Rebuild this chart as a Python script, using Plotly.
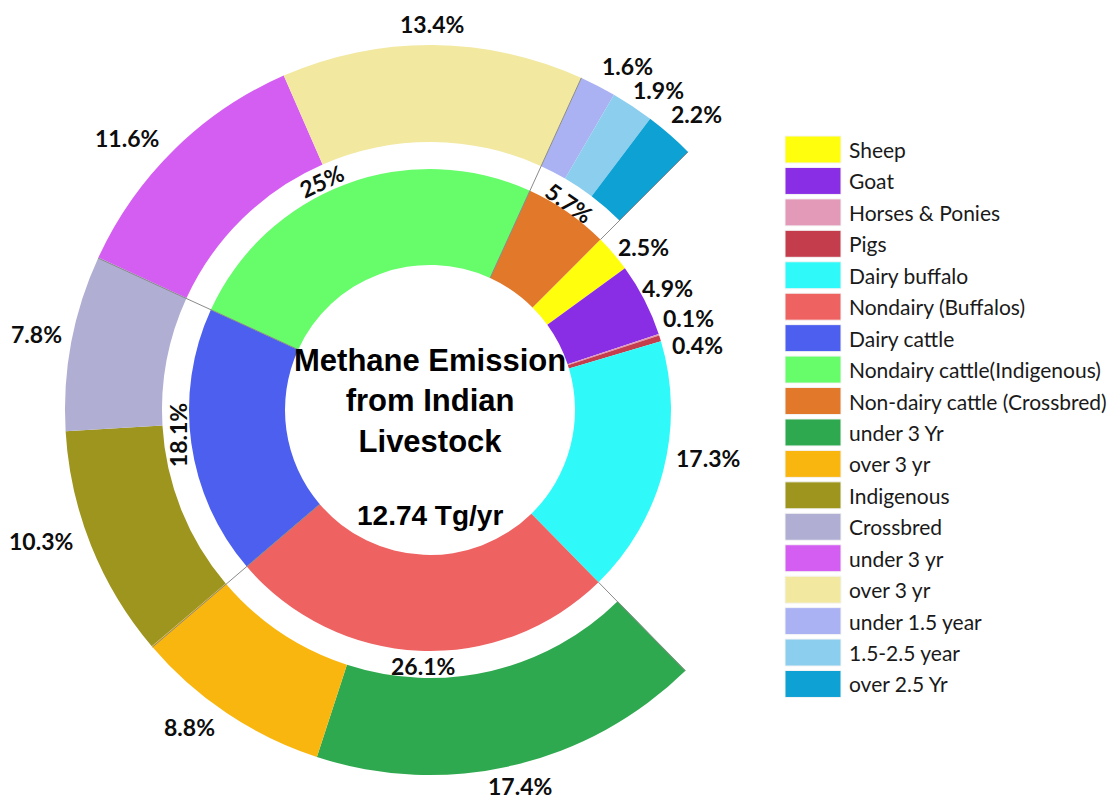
import math
import plotly.graph_objects as go

# ---- data -------------------------------------------------------------
# inner ring: share of total methane emission by livestock category (%)
inner_labels = ["Sheep", "Goat", "Horses & Ponies", "Pigs", "Dairy buffalo",
                "Nondairy (Buffalos)", "Dairy cattle",
                "Nondairy cattle(Indigenous)", "Non-dairy cattle (Crossbred)"]
inner_values = [2.5, 4.9, 0.1, 0.4, 17.3, 26.1, 18.1, 25.0, 5.7]

# outer ring: age / breed split of the cattle and buffalo groups (%)
outer_labels = ["under 3 Yr", "over 3 yr", "Indigenous", "Crossbred",
                "under 3 yr", "over 3 yr", "under 1.5 year", "1.5-2.5 year",
                "over 2.5 Yr"]
outer_values = [17.4, 8.8, 10.3, 7.8, 11.6, 13.4, 1.6, 1.9, 2.2]
outer_parent = [5, 5, 6, 6, 7, 7, 8, 8, 8]   # index of the inner category

total_emission = "12.74 Tg/yr"

# ---- style ------------------------------------------------------------
inner_colors = ["#FFFF0D", "#8A2EE6", "#E29AB8", "#C43D4D", "#30FAF9",
                "#EF6262", "#4C5FEF", "#66FC6A", "#E2782A"]
outer_colors = ["#2FA94F", "#F9B60F", "#9D951D", "#B0AFD3", "#D45EF2",
                "#F2E8A0", "#AAB2F3", "#8CCEEE", "#0EA1D3"]

W, H = 1120, 800
CX, CY = 430, 410                    # ring centre (px)
R_OUT, R_GAP, R_IN, R_HOLE = 365, 268, 241, 145
START = 45                           # first slice starts here (deg, clockwise from top)

# label placement: radius (px), angular nudge (deg), rotation (deg)
inner_lab_r = [269, 267, 274, 275, 282, 256, 253, 253, 250]
inner_lab_da = [3.2, 0.1, -1.4, 3.6, -4.8, -0.9, 2.3, -4.9, -0.8]
inner_lab_rot = [0, 0, 0, 0, 0, 0, -90, -25, 35]
outer_lab_r = [387, 398, 410, 401, 407, 386, 397, 393, 398]
outer_lab_da = [-0.3, 3.4, 3.2, 0.3, -3.6, -0.2, 2.5, 1.9, 0.9]

LABEL_FONT = dict(family="Lato, Open Sans, sans-serif", size=23, color="#0d0d0d")
LEGEND_FONT = dict(family="Lato, Open Sans, sans-serif", size=21, color="#1a1a1a")
TITLE_FONT = dict(family="Arial, Liberation Sans, sans-serif", size=31, color="#000000")
VALUE_FONT = dict(family="Arial, Liberation Sans, sans-serif", size=28, color="#000000")


def to_paper(angle_deg, r_px):
    a = math.radians(angle_deg)
    x = CX + r_px * math.sin(a)
    y = CY - r_px * math.cos(a)
    return x / W, 1 - y / H


def domain(r_px):
    return dict(x=[(CX - r_px) / W, (CX + r_px) / W],
                y=[1 - (CY + r_px) / H, 1 - (CY - r_px) / H])


# outer ring is empty over the categories without a breakdown
split = sorted(set(outer_parent))
blank = sum(v for i, v in enumerate(inner_values) if i not in split)
outer_ring_values = [blank] + outer_values
outer_ring_colors = ["rgba(0,0,0,0)"] + outer_colors
outer_ring_labels = ["Other livestock"] + [
    f"{inner_labels[p]}: {lab}" for p, lab in zip(outer_parent, outer_labels)]

fig = go.Figure()

fig.add_trace(go.Pie(
    labels=inner_labels, values=inner_values, sort=False,
    direction="clockwise", rotation=START, hole=R_HOLE / R_IN,
    domain=domain(R_IN), textinfo="none",
    marker=dict(colors=inner_colors, line=dict(width=0)),
    showlegend=False))

fig.add_trace(go.Pie(
    labels=outer_ring_labels, values=outer_ring_values, sort=False,
    direction="clockwise", rotation=START, hole=R_GAP / R_OUT,
    domain=domain(R_OUT), textinfo="none",
    marker=dict(colors=outer_ring_colors, line=dict(width=0)),
    showlegend=False))

# slice angles from the data
inner_step = 360 / sum(inner_values)
inner_edges = [START]
for v in inner_values:
    inner_edges.append(inner_edges[-1] + v * inner_step)
outer_step = 360 / sum(outer_ring_values)
outer_edges = [START]
for v in outer_ring_values:
    outer_edges.append(outer_edges[-1] + v * outer_step)
outer_edges = outer_edges[1:]        # drop the empty sector

# thin separators at the group boundaries
shapes = []
for k in range(min(split), max(split) + 2):
    ang = inner_edges[k]
    inside = k not in (min(split), max(split) + 1)
    r0 = R_HOLE if inside else R_IN
    x0, y0 = to_paper(ang, r0)
    x1, y1 = to_paper(ang, R_OUT)
    shapes.append(dict(type="line", xref="paper", yref="paper",
                       x0=x0, y0=y0, x1=x1, y1=y1,
                       line=dict(color="#8a8a8a", width=1), layer="above"))

annotations = []
for i, v in enumerate(inner_values):
    mid = (inner_edges[i] + inner_edges[i + 1]) / 2 + inner_lab_da[i]
    x, y = to_paper(mid, inner_lab_r[i])
    annotations.append(dict(x=x, y=y, xref="paper", yref="paper",
                            text=f"<b>{v:g}%</b>", showarrow=False,
                            textangle=inner_lab_rot[i], font=LABEL_FONT,
                            xanchor="center", yanchor="middle"))
for i, v in enumerate(outer_values):
    mid = (outer_edges[i] + outer_edges[i + 1]) / 2 + outer_lab_da[i]
    x, y = to_paper(mid, outer_lab_r[i])
    annotations.append(dict(x=x, y=y, xref="paper", yref="paper",
                            text=f"<b>{v:g}%</b>", showarrow=False,
                            font=LABEL_FONT, xanchor="center", yanchor="middle"))

# centre text
annotations.append(dict(x=CX / W, y=1 - 401 / H, xref="paper", yref="paper",
                        text="<b>Methane Emission<br>from Indian<br>Livestock</b>",
                        showarrow=False, font=TITLE_FONT, align="center",
                        xanchor="center", yanchor="middle"))
annotations.append(dict(x=CX / W, y=1 - 515 / H, xref="paper", yref="paper",
                        text=f"<b>{total_emission}</b>", showarrow=False,
                        font=VALUE_FONT, xanchor="center", yanchor="middle"))

# legend: one swatch per category, inner ring first
LEG_X0, LEG_X1, LEG_TOP, LEG_STEP, LEG_H = 785, 841, 149.5, 31.44, 27
for j, (lab, col) in enumerate(zip(inner_labels + outer_labels,
                                   inner_colors + outer_colors)):
    yc = LEG_TOP + j * LEG_STEP
    shapes.append(dict(type="rect", xref="paper", yref="paper",
                       x0=LEG_X0 / W, x1=LEG_X1 / W,
                       y0=1 - (yc + LEG_H / 2) / H, y1=1 - (yc - LEG_H / 2) / H,
                       fillcolor=col, line=dict(color="#f4f4f4", width=1)))
    annotations.append(dict(x=(LEG_X1 + 6) / W, y=1 - yc / H,
                            xref="paper", yref="paper", text=lab,
                            showarrow=False, font=LEGEND_FONT,
                            xanchor="left", yanchor="middle"))

fig.update_layout(width=W, height=H, margin=dict(l=0, r=0, t=0, b=0),
                  paper_bgcolor="white", plot_bgcolor="white",
                  showlegend=False, shapes=shapes, annotations=annotations)

fig.write_html("out.html")
